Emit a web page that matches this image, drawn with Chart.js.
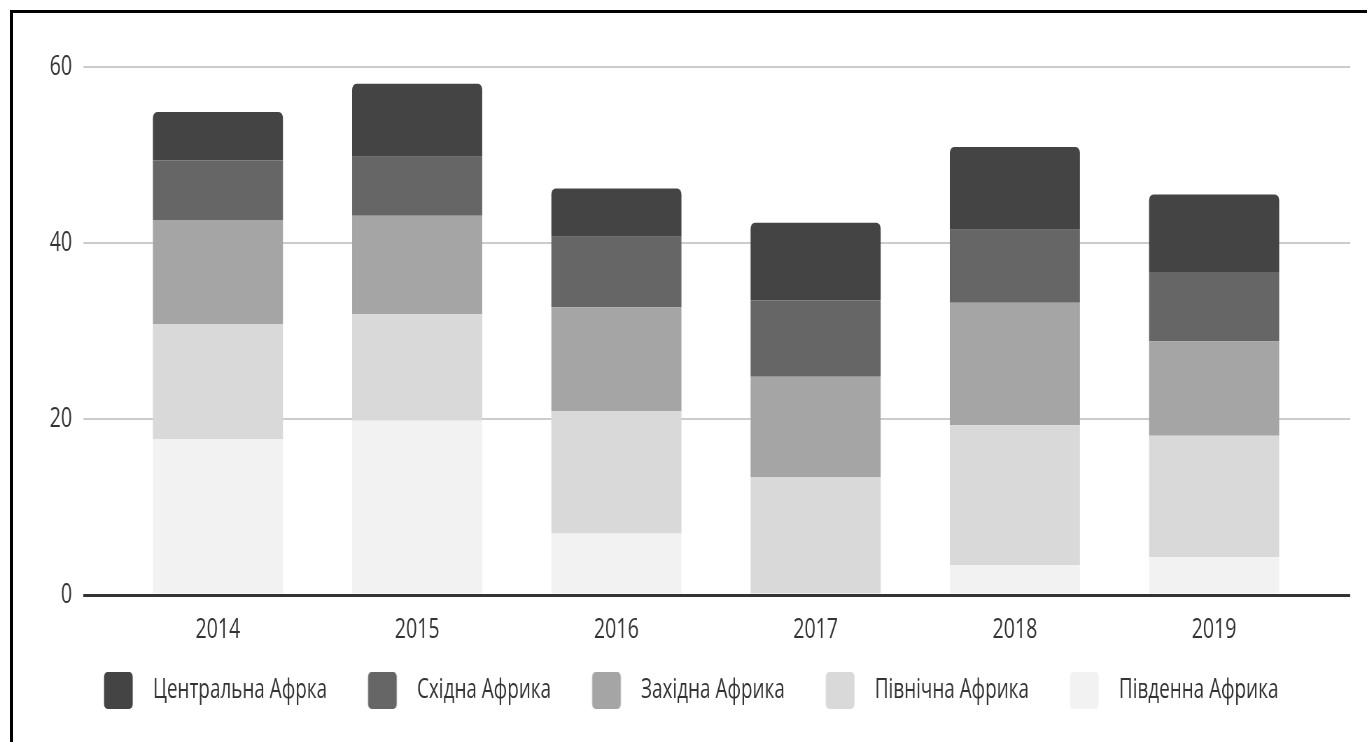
<!DOCTYPE html>
<html>
<head>
<meta charset="utf-8">
<script src="https://cdn.jsdelivr.net/npm/chart.js@4.4.1/dist/chart.umd.min.js"></script>
<style>
  html, body { margin: 0; padding: 0; background: #fff; overflow: hidden; }
  #marco { position: absolute; left: 10px; top: 10px; width: 1400px; height: 800px; border: 3px solid #000; }
  #grafica { position: absolute; left: 0; top: 0; }
</style>
</head>
<body>
<div id="marco"></div>
<!-- el lienzo se dibuja mas ancho y se comprime en horizontal, como el original -->
<canvas id="grafica" width="1953" height="742" style="width:1367px;height:742px"></canvas>
<script>
var anios = ['2014', '2015', '2016', '2017', '2018', '2019'];
var ticksY = [0, 20, 40, 60];

// valores por region (de abajo hacia arriba en la pila)
var pivdenna   = [17.7, 19.8, 7.0, 0, 3.4, 4.3];
var pivnichna  = [13.1, 12.1, 13.9, 13.4, 15.9, 13.8];
var zakhidna   = [11.8, 11.2, 11.8, 11.4, 13.9, 10.7];
var skhidna    = [6.8, 6.7, 8.0, 8.7, 8.3, 7.9];
var tsentralna = [5.5, 8.3, 5.5, 8.8, 9.4, 8.8];

var fuente = '"Open Sans", "Noto Sans", sans-serif';

function muestra(color) {
  var c = document.createElement('canvas');
  c.width = 83; c.height = 37;
  var g = c.getContext('2d');
  g.fillStyle = color;
  g.beginPath();
  g.roundRect(26.6, 0, 41, 37, 5);
  g.fill();
  return c;
}

function puntos(valores) {
  return valores.map(function(v, i) { return {x: i, y: v}; });
}

var series = [
  {label: 'Південна Африка', data: pivdenna, color: '#f2f2f2'},
  {label: 'Північна Африка', data: pivnichna, color: '#d9d9d9'},
  {label: 'Західна Африка', data: zakhidna, color: '#a5a5a5'},
  {label: 'Східна Африка', data: skhidna, color: '#666666'},
  {label: 'Центральна Афрка', data: tsentralna, color: '#444444'}
];
var muestras = series.map(function(s) { return muestra(s.color); });

const chart = new Chart(
  document.getElementById('grafica'),
  {
    type: 'bar',
    data: {
      datasets: series.map(function(s, i) {
        return {
          label: s.label,
          data: puntos(s.data),
          backgroundColor: s.color,
          borderWidth: 0,
          borderRadius: i === series.length - 1 ? {topLeft: 6, topRight: 6, bottomLeft: 0, bottomRight: 0} : 0,
          borderSkipped: 'start',
          barPercentage: 0.653,
          categoryPercentage: 1
        };
      })
    },
    options: {
      responsive: false,
      animation: false,
      devicePixelRatio: 1,
      layout: { padding: {top: 67, left: 90, right: 24, bottom: 28} },
      scales: {
        x: {
          type: 'linear',
          stacked: true,
          offset: false,
          min: -0.677,
          max: 5.683,
          grid: { display: false },
          border: { display: false },
          afterFit: function(scale) { scale.height = 50; },
          ticks: {
            stepSize: 1,
            includeBounds: false,
            maxRotation: 0,
            autoSkip: false,
            padding: 10,
            color: '#333',
            font: { family: fuente, size: 28 },
            callback: function(value) { return anios[value] !== undefined ? anios[value] : ''; }
          }
        },
        y: {
          stacked: true,
          min: ticksY[0],
          max: ticksY[ticksY.length - 1],
          border: { display: false },
          afterFit: function(scale) { scale.width = 28.6; },
          grid: {
            drawTicks: false,
            color: function(ctx) { return ctx.tick && ctx.tick.value === 0 ? '#333333' : '#cccccc'; },
            lineWidth: function(ctx) { return ctx.tick && ctx.tick.value === 0 ? 3 : 2; }
          },
          ticks: {
            stepSize: 20,
            mirror: true,
            crossAlign: 'far',
            padding: -47.7,
            color: '#333',
            font: { family: fuente, size: 28 }
          }
        }
      },
      plugins: {
        tooltip: { enabled: false },
        legend: {
          position: 'bottom',
          align: 'start',
          reverse: true,
          labels: {
            usePointStyle: true,
            pointStyleWidth: 83,
            padding: 32,
            color: '#333',
            font: { family: fuente, size: 27 },
            generateLabels: function(ch) {
              var items = Chart.defaults.plugins.legend.labels.generateLabels(ch);
              return items.map(function(it) {
                it.pointStyle = muestras[it.datasetIndex];
                return it;
              });
            }
          }
        }
      }
    }
  }
);
</script>
</body>
</html>
